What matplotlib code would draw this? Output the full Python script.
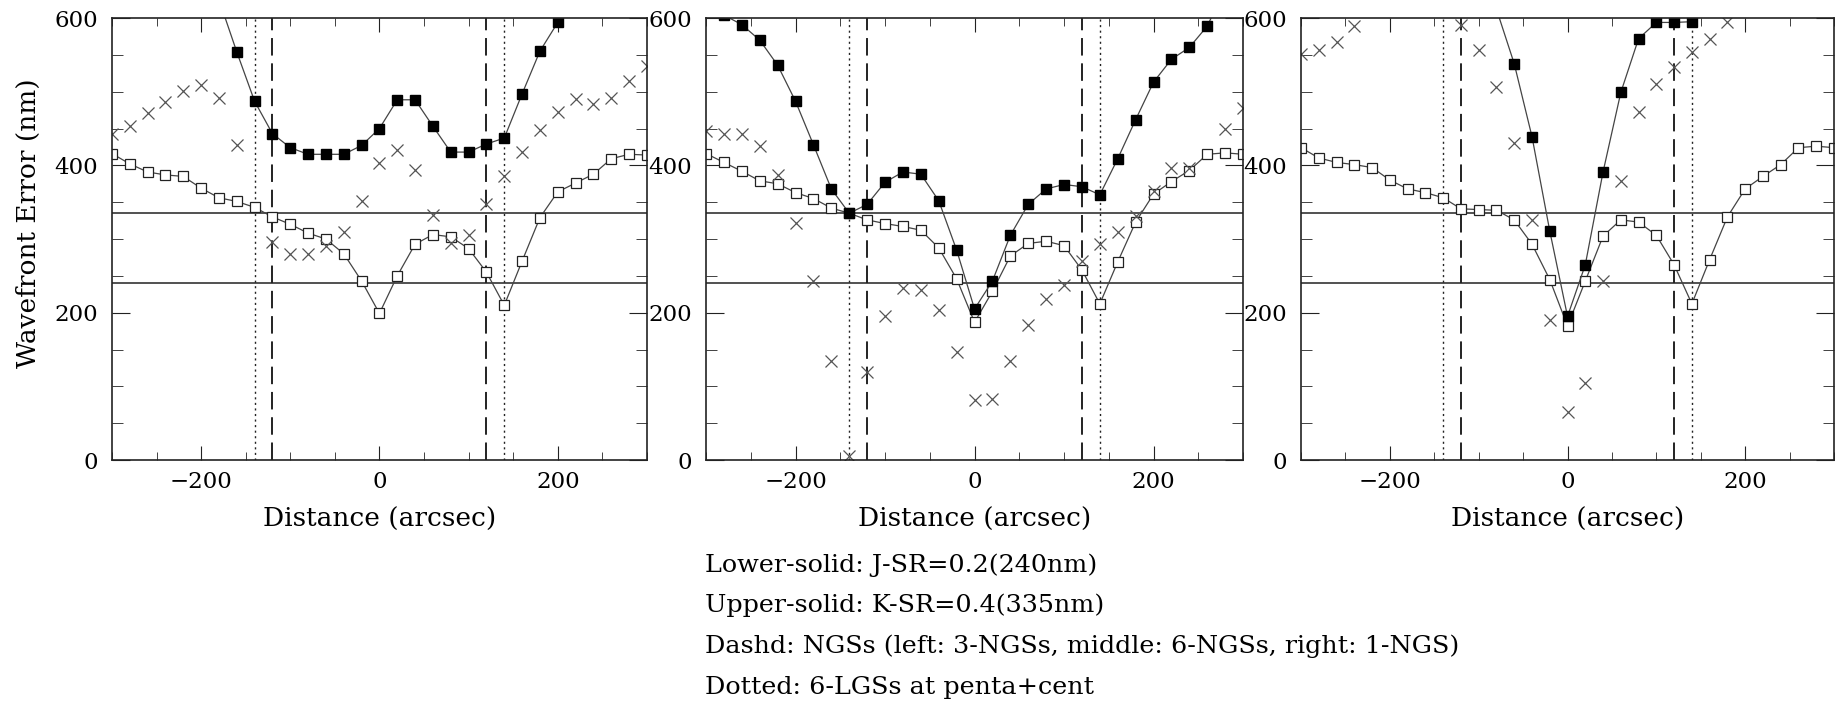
import numpy as np
import matplotlib
matplotlib.use("Agg")
import matplotlib.pyplot as plt
from matplotlib.ticker import MultipleLocator

nan = np.nan

# distance grid (arcsec), shared by all three panels
distance = [-300, -280, -260, -240, -220, -200, -180, -160, -140, -120, -100,
            -80, -60, -40, -20, 0, 20, 40, 60, 80, 100,
            120, 140, 160, 180, 200, 220, 240, 260, 280, 300]

# left panel (3 NGSs)
left_open = [416, 402, 391, 387, 385, 369, 356, 351, 343, 330, 320,
             308, 300, 280, 243, 199, 250, 293, 306, 303, 287,
             255, 210, 270, 329, 364, 376, 388, 409, 415, 414]
left_filled = [nan, nan, nan, nan, nan, nan, 625, 554, 487, 443, 424,
               415, 415, 415, 427, 450, 489, 489, 453, 418, 418,
               429, 437, 497, 555, 594, 680, nan, nan, nan, nan]
left_cross = [443, 454, 471, 486, 501, 509, 491, 428, nan, 296, 279,
              279, 291, 310, 352, 403, 421, 394, 333, 294, 306,
              347, 386, 418, 448, 472, 490, 483, 491, 515, 535]

# middle panel (6 NGSs)
mid_open = [416, 404, 392, 379, 375, 363, 355, 342, 335, 326, 321,
            317, 312, 288, 246, 187, 229, 277, 294, 297, 291,
            258, 212, 269, 323, 361, 378, 393, 415, 417, 415]
mid_filled = [625, 604, 591, 570, 536, 487, 428, 368, 335, 347, 377,
              391, 388, 352, 285, 205, 243, 305, 347, 368, 374,
              371, 360, 409, 462, 513, 544, 560, 589, 640, nan]
mid_cross = [447, 443, 443, 426, 387, 322, 243, 134, 6, 119, 196,
             234, 231, 204, 147, 82, 83, 134, 183, 219, 237,
             270, 293, 310, 331, 365, 396, 397, nan, 450, 478]

# right panel (1 NGS)
right_open = [424, 410, 404, 401, 397, 380, 368, 363, 356, 341, 340,
              339, 326, 293, 245, 182, 243, 304, 326, 323, 305,
              265, 212, 272, 330, 368, 385, 401, 424, 426, 424]
right_filled = [nan, nan, nan, nan, nan, nan, nan, nan, nan, nan, nan,
                612, 538, 439, 311, 195, 265, 391, 499, 572, 594,
                594, 595, 700, nan, nan, nan, nan, nan, nan, nan]
right_cross = [551, 557, 567, 589, nan, nan, nan, nan, nan, 591, 557,
               506, 430, 326, 190, 65, 104, 243, 379, 473, 510,
               533, 554, 572, 594, nan, nan, nan, nan, nan, nan]

sr_levels = [240, 335]          # J-SR=0.2 and K-SR=0.4
ngs_pos = [-120, 120]           # dashed
lgs_pos = [-140, 140]           # dotted

captions = ["Lower-solid: J-SR=0.2(240nm)",
            "Upper-solid: K-SR=0.4(335nm)",
            "Dashd: NGSs (left: 3-NGSs, middle: 6-NGSs, right: 1-NGS)",
            "Dotted: 6-LGSs at penta+cent"]

plt.rcParams['font.family'] = ['DejaVu Serif']
plt.rcParams['font.size'] = 16.5

ink = '#222222'
fig = plt.figure(figsize=(18.41, 7.12), dpi=100)

panels = [(left_open, left_filled, left_cross, 0.0608, 0.2906),
          (mid_open, mid_filled, mid_cross, 0.3835, 0.2917),
          (right_open, right_filled, right_cross, 0.7067, 0.2895)]

for i, (op, fi, cr, x0, w) in enumerate(panels):
    ax = fig.add_axes([x0, 0.3539, w, 0.6208])
    for lev in sr_levels:
        ax.axhline(lev, color=ink, lw=1.1)
    for xv in ngs_pos:
        ax.axvline(xv, color=ink, lw=1.4, ls=(0, (9, 4)))
    for xv in lgs_pos:
        ax.axvline(xv, color=ink, lw=1.0, ls=(0, (1.5, 2.5)))

    ax.plot(distance, op, color='#444444', lw=0.9, marker='s', ms=7,
            mfc='white', mec=ink, mew=0.9)
    ax.plot(distance, fi, color='#444444', lw=0.9, marker='s', ms=7.5,
            mfc='black', mec='black')
    ax.plot(distance, cr, ls='none', marker='x', ms=8, mec='#555555', mew=0.9)

    ax.set_xlim(-300, 300)
    ax.set_ylim(0, 600)
    ax.xaxis.set_major_locator(MultipleLocator(200))
    ax.xaxis.set_minor_locator(MultipleLocator(50))
    ax.yaxis.set_major_locator(MultipleLocator(200))
    ax.yaxis.set_minor_locator(MultipleLocator(50))
    ax.tick_params(which='both', direction='in', top=True, right=True, color=ink)
    ax.tick_params(axis='x', which='major', length=10, pad=8)
    ax.tick_params(axis='x', which='minor', length=6)
    ax.tick_params(axis='y', which='major', length=13, pad=10)
    ax.tick_params(axis='y', which='minor', length=8)
    for sp in ax.spines.values():
        sp.set_color(ink)
        sp.set_linewidth(1.2)

    ax.set_xlabel("Distance (arcsec)", fontsize=19)
    ax.xaxis.set_label_coords(0.5, -0.106)
    if i == 0:
        ax.set_ylabel("Wavefront Error (nm)", fontsize=19)
        ax.yaxis.set_label_coords(-0.133, 0.536)

cap_y = [0.2065, 0.150, 0.0927, 0.035]
for txt, yy in zip(captions, cap_y):
    fig.text(0.383, yy, txt, fontsize=18.3, va='center', ha='left', color='black')

fig.savefig("out.png", dpi=100)
